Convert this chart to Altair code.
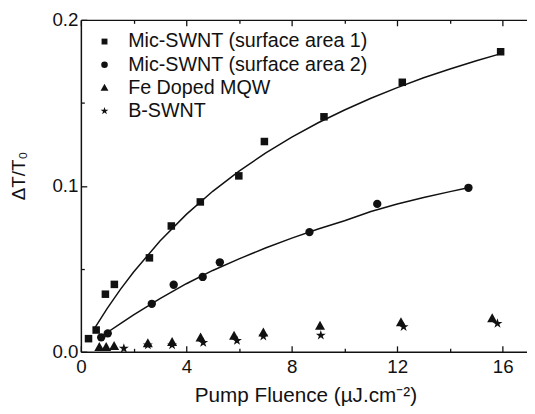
import altair as alt
import pandas as pd

# ---- data ----
series = ["Mic-SWNT (surface area 1)", "Mic-SWNT (surface area 2)", "Fe Doped MQW", "B-SWNT"]

sq_x = [0.29, 0.58, 0.93, 1.27, 2.60, 3.43, 4.53, 5.99, 6.96, 9.22, 12.19, 15.92]
sq_y = [0.0079, 0.0131, 0.0347, 0.0406, 0.0566, 0.0758, 0.0903, 0.1060, 0.1267, 0.1416, 0.1624, 0.1808]

ci_x = [0.77, 1.02, 2.69, 3.52, 4.62, 5.27, 8.67, 11.24, 14.70]
ci_y = [0.0087, 0.0111, 0.0289, 0.0404, 0.0451, 0.0539, 0.0721, 0.0891, 0.0988]

tr_x = [0.70, 0.96, 1.26, 2.54, 3.46, 4.54, 5.81, 6.92, 9.07, 12.14, 15.60]
tr_y = [0.0028, 0.0028, 0.0034, 0.0050, 0.0058, 0.0085, 0.0095, 0.0115, 0.0156, 0.0176, 0.0200]

st_x = [1.63, 2.54, 3.46, 4.64, 5.92, 6.92, 9.10, 12.24, 15.80]
st_y = [0.0020, 0.0040, 0.0040, 0.0055, 0.0067, 0.0093, 0.0099, 0.0150, 0.0170]

# fitted curves
fit1_x = [0.5, 1, 1.5, 2, 3, 4, 5, 6, 7, 8, 9, 10, 11, 12, 13, 14, 15, 15.9]
fit1_y = [0.0137, 0.0262, 0.0376, 0.0481, 0.0667, 0.0828, 0.0967, 0.1089, 0.1197,
          0.1293, 0.1380, 0.1457, 0.1528, 0.1592, 0.1651, 0.1704, 0.1754, 0.1795]
fit2_x = [0.8, 1.5, 2, 3, 4, 5, 6, 7, 8, 9, 10, 11, 12, 13, 14, 14.6]
fit2_y = [0.0095, 0.0170, 0.0222, 0.0320, 0.0410, 0.0490, 0.0560, 0.0625,
          0.0685, 0.0740, 0.0790, 0.0845, 0.0890, 0.0930, 0.0965, 0.0985]

x_major = [0, 4, 8, 12, 16]
x_all = [0, 2, 4, 6, 8, 10, 12, 14, 16]
y_major = [0.0, 0.1, 0.2]
y_all = [0.0, 0.05, 0.1, 0.15, 0.2]

# marker shapes (unit-box SVG paths)
square_path = "M-0.9,-0.9H0.9V0.9H-0.9Z"
triangle_path = "M0,-1.25L1.2,0.9L-1.2,0.9Z"
star_path = ("M0,-1.25L0.281,-0.386L1.189,-0.386L0.454,0.148L0.735,1.011L0,0.477"
             "L-0.735,1.011L-0.454,0.148L-1.189,-0.386L-0.281,-0.386Z")
shapes = [square_path, "circle", triangle_path, star_path]

rows = []
for name, xs, ys in zip(series, [sq_x, ci_x, tr_x, st_x], [sq_y, ci_y, tr_y, st_y]):
    for a, b in zip(xs, ys):
        rows.append({"x": a, "y": b, "series": name})
pts = pd.DataFrame(rows)

crows = []
for cid, xs, ys in [("fit1", fit1_x, fit1_y), ("fit2", fit2_x, fit2_y)]:
    for a, b in zip(xs, ys):
        crows.append({"x": a, "y": b, "curve": cid})
curves = pd.DataFrame(crows)

W, H = 453, 337
FONT = "Liberation Sans, Arial, Helvetica, sans-serif"
INK = "#111111"
xscale = alt.Scale(domain=[0, 16.92], nice=False, zero=False)
yscale = alt.Scale(domain=[0, 0.2], nice=False, zero=False)

x_tick_size = {"condition": {"test": "datum.value % 4 === 0", "value": 6}, "value": 3.5}
y_tick_size = {"condition": {"test": "round(datum.value * 20) % 2 === 0", "value": 6}, "value": 3.5}

points = alt.Chart(pts).mark_point(filled=True, opacity=1, color=INK, size=72, strokeWidth=0).encode(
    x=alt.X("x:Q", scale=xscale, axis=alt.Axis(
        orient="bottom", values=x_major, ticks=False, tickSize=0, grid=False,
        labelPadding=6, labelFlush=False,
        title="Pump Fluence (µJ.cm⁻²)", titleFontSize=21, titleY=50, titleX=228,
        titleBaseline="alphabetic")),
    y=alt.Y("y:Q", scale=yscale, axis=alt.Axis(
        orient="left", values=y_major, format=".1f", ticks=False, tickSize=0, grid=False,
        labelPadding=3, labelFlush=False, labelAlign="right", title="ΔT/T₀", titleFontSize=19,
        titleX=-57, titleY=158, titleBaseline="alphabetic")),
    shape=alt.Shape("series:N", scale=alt.Scale(domain=series, range=shapes),
                    legend=alt.Legend(orient="none", legendX=14, legendY=12, title=None,
                                      labelFontSize=20, labelFont=FONT, labelColor="#111",
                                      symbolSize=44, rowPadding=3.5, labelOffset=14, padding=0,
                                      symbolFillColor=INK, symbolStrokeColor=INK,
                                      symbolStrokeWidth=0, symbolOpacity=1, labelLimit=400)),
)

lines = alt.Chart(curves).mark_line(color=INK, strokeWidth=1.5).encode(
    x=alt.X("x:Q", scale=xscale, axis=alt.Axis(
        orient="top", offset=-H, values=x_all, labels=False, domain=False, grid=False,
        ticks=True, tickSize=x_tick_size, title=None)),
    y=alt.Y("y:Q", scale=yscale, axis=alt.Axis(
        orient="right", offset=-W, values=y_all, labels=False, domain=False, grid=False,
        ticks=True, tickSize=y_tick_size, title=None)),
    detail="curve:N",
)

frame_top = alt.Chart(curves).mark_line(strokeOpacity=0).encode(
    x=alt.X("x:Q", scale=xscale, axis=alt.Axis(
        orient="bottom", offset=-H, values=x_all, labels=False, domain=True, grid=False,
        ticks=True, tickSize=x_tick_size, title=None)),
    y=alt.Y("y:Q", scale=yscale, axis=None),
    detail="curve:N",
)

chart = alt.layer(points, lines, frame_top).resolve_axis(
    x="independent", y="independent"
).properties(
    width=W, height=H,
    padding={"left": 74, "top": 9, "right": 0, "bottom": 52},
    autosize=alt.AutoSizeParams(type="none"),
).configure_view(stroke=None).configure_axis(
    labelFont=FONT, labelFontSize=19, labelColor="#111",
    titleFont=FONT, titleColor="#111", titleFontWeight="normal",
    domainColor="#111", domainWidth=1.5, tickColor="#111", tickWidth=1.3,
)

chart.save("out.html", embed_options={"renderer": "svg", "actions": False})
